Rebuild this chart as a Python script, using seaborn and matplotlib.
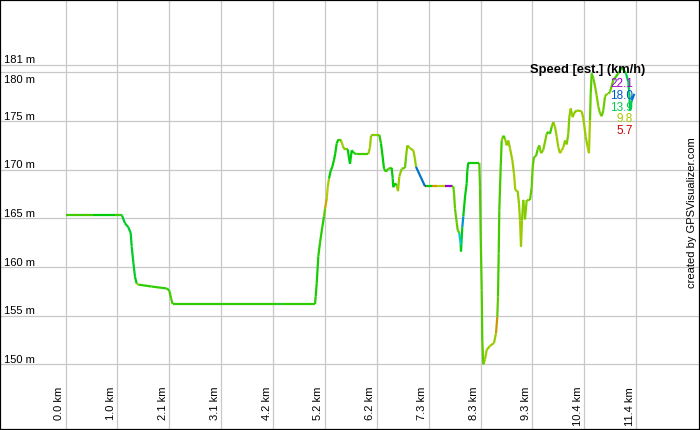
import numpy as np
import pandas as pd
import matplotlib
matplotlib.use("Agg")
import matplotlib.pyplot as plt
import seaborn as sns
from matplotlib.colors import ListedColormap, Normalize, hsv_to_rgb
from matplotlib import transforms
from matplotlib.patches import Rectangle

sns.set_theme(style="white")
plt.rcParams['font.family'] = ['Liberation Sans', 'DejaVu Sans']

# ---------------- data ----------------
dist_km = [
    0.000, 0.540, 0.990, 1.108, 1.128, 1.188, 1.254, 1.302, 1.322, 1.354, 1.388, 1.422, 1.454, 1.722, 2.022, 2.074, 2.108, 2.142,
    4.310, 4.330, 4.988, 5.002, 5.022, 5.054, 5.088, 5.134, 5.168, 5.188, 5.222, 5.242, 5.268, 5.302, 5.334, 5.368, 5.394, 5.422,
    5.454, 5.502, 5.542, 5.574, 5.642, 5.674, 5.688, 5.722, 5.768, 5.822, 6.054, 6.088, 6.108, 6.154, 6.274, 6.308, 6.342, 6.368,
    6.408, 6.454, 6.522, 6.542, 6.554, 6.588, 6.622, 6.648, 6.674, 6.722, 6.788, 6.808, 6.834, 6.888, 6.954, 6.988, 7.008, 7.188,
    7.210, 7.320, 7.420, 7.590, 7.720, 7.754, 7.768, 7.788, 7.822, 7.842, 7.874, 7.902, 7.908, 7.934, 7.954, 7.988, 8.022, 8.034,
    8.054, 8.274, 8.288, 8.302, 8.322, 8.334, 8.354, 8.388, 8.422, 8.488, 8.568, 8.608, 8.634, 8.648, 8.662, 8.674, 8.702, 8.722,
    8.754, 8.788, 8.822, 8.854, 8.888, 8.934, 8.968, 8.994, 9.042, 9.068, 9.088, 9.108, 9.128, 9.154, 9.188, 9.222, 9.288, 9.322,
    9.342, 9.368, 9.408, 9.442, 9.474, 9.508, 9.552, 9.622, 9.654, 9.688, 9.722, 9.754, 9.788, 9.822, 9.854, 9.888, 9.922, 9.954,
    9.988, 10.022, 10.054, 10.074, 10.102, 10.142, 10.168, 10.222, 10.322, 10.354, 10.402, 10.442, 10.468, 10.488, 10.502, 10.522,
    10.554, 10.588, 10.622, 10.654, 10.688, 10.722, 10.754, 10.788, 10.822, 10.854, 10.888, 10.954, 11.054, 11.122, 11.168, 11.208,
    11.254, 11.274, 11.288, 11.322, 11.374,
]

elev_m = [
    165.4, 165.4, 165.4, 165.4, 165.3, 164.5, 164.1, 163.5, 162.1, 160.5, 159.0, 158.3, 158.2, 158.0, 157.8, 157.6, 156.8, 156.2,
    156.2, 156.2, 156.2, 157.0, 158.3, 161.1, 162.5, 164.1, 165.2, 166.0, 167.0, 168.2, 169.1, 169.9, 170.3, 171.0, 171.7, 172.7,
    173.1, 173.1, 172.5, 172.1, 172.1, 171.0, 170.6, 172.0, 171.7, 171.6, 171.6, 172.3, 173.5, 173.6, 173.6, 172.7, 171.3, 170.1,
    169.8, 170.1, 170.2, 169.1, 168.2, 168.6, 168.4, 167.8, 169.3, 170.1, 170.2, 171.3, 172.5, 172.2, 172.0, 171.1, 170.3, 168.3,
    168.3, 168.3, 168.3, 168.3, 168.3, 168.3, 167.6, 166.0, 164.6, 163.8, 163.5, 162.3, 161.6, 164.1, 165.2, 167.2, 168.6, 169.9,
    170.7, 170.7, 168.2, 163.1, 157.6, 152.5, 150.0, 150.5, 151.5, 151.9, 152.2, 153.2, 154.9, 157.0, 161.4, 165.8, 170.3, 173.0,
    173.5, 173.2, 172.5, 173.0, 172.2, 171.0, 169.6, 167.9, 167.8, 166.5, 164.8, 162.1, 164.8, 166.9, 164.9, 166.9, 166.9, 168.2,
    170.3, 171.3, 171.4, 172.1, 172.5, 171.7, 172.0, 173.7, 173.9, 173.7, 174.4, 174.9, 174.4, 173.4, 172.3, 171.7, 172.0, 172.3,
    173.0, 172.6, 173.7, 175.4, 176.3, 175.4, 175.8, 176.1, 176.0, 175.3, 173.4, 172.3, 171.7, 175.1, 177.8, 179.9,
    179.4, 178.6, 177.6, 176.5, 175.8, 175.5, 176.1, 177.5, 177.8, 177.8, 178.0, 179.2, 179.9, 180.5, 180.2, 179.9,
    179.0, 177.8, 176.1, 177.1, 177.8,
]

# estimated speed (km/h) of the segment starting at each point
speed_kmh = [
    11.5, 12.8, 11.5, 13.2, 13.2, 13.2, 13.2, 13.2, 13.2, 13.2, 13.0, 9.0, 11.8, 11.8, 11.8, 11.5, 11.5, 11.8,
    16.0, 11.8, 12.0, 12.2, 12.2, 12.0, 12.0, 12.0, 11.0, 8.5, 9.5, 9.8, 12.5, 12.5, 12.5, 12.5, 12.5, 12.5,
    11.5, 9.8, 10.2, 10.5, 12.8, 12.8, 12.8, 12.5, 12.0, 11.5, 10.0, 10.0, 10.5, 10.2, 12.0, 12.5, 12.5, 12.0,
    11.5, 11.5, 12.8, 12.8, 12.8, 12.5, 10.0, 10.0, 10.2, 11.0, 11.0, 10.5, 10.0, 10.0, 10.0, 10.2, 17.5, 6.0,
    12.5, 8.3, 9.5, 22.0, 11.5, 11.0, 11.0, 11.0, 11.0, 11.0, 16.0, 13.0, 13.0, 17.0, 12.8, 12.8, 12.8, 12.8,
    12.3, 11.3, 11.3, 11.3, 11.3, 11.0, 10.0, 10.0, 10.0, 10.0, 10.0, 8.3, 11.0, 11.5, 11.5, 11.5, 11.5, 10.5,
    11.5, 10.0, 10.2, 10.0, 10.0, 10.0, 9.8, 10.0, 10.2, 10.0, 9.8, 10.0, 10.5, 10.2, 10.5, 10.5, 11.0, 11.0,
    11.0, 11.0, 11.2, 11.0, 10.5, 10.5, 10.5, 11.5, 11.0, 11.5, 10.5, 10.0, 10.0, 10.0, 10.0, 9.5, 9.8, 10.0,
    10.5, 10.5, 10.5, 10.2, 10.0, 10.2, 10.5, 10.0, 10.0, 10.0, 10.0, 9.8, 9.8, 11.0, 11.2, 11.0,
    10.8, 10.5, 10.5, 10.5, 10.8, 11.0, 10.8, 10.5, 10.5, 11.0, 11.0, 11.5, 12.0, 12.5, 13.0, 14.0,
    14.0, 14.0, 14.0, 17.5, 17.5,
]

x_tick_km = [0.0, 1.037, 2.075, 3.112, 4.150, 5.187, 6.225, 7.262, 8.300, 9.337, 10.375, 11.412]
x_tick_labels = ["0.0 km", "1.0 km", "2.1 km", "3.1 km", "4.2 km", "5.2 km",
                 "6.2 km", "7.3 km", "8.3 km", "9.3 km", "10.4 km", "11.4 km"]
y_tick_m = [150, 155, 160, 165, 170, 175, 180, 180.8]
y_tick_labels = ["150 m", "155 m", "160 m", "165 m", "170 m", "175 m", "180 m", "181 m"]

legend_title = "Speed [est.] (km/h)"
legend_speeds = [22.1, 18.0, 13.9, 9.8, 5.7]
speed_min, speed_max = 5.7, 22.1

# ---------------- colour scale ----------------
hues = np.linspace(0.0, 285.0 / 360.0, 256)
cmap = ListedColormap(hsv_to_rgb(np.stack([hues, np.ones_like(hues), 0.8 * np.ones_like(hues)], axis=-1)))
norm = Normalize(speed_min, speed_max)

# long-form segments table
rows = []
for i in range(len(dist_km) - 1):
    rows.append({"seg": i, "km": dist_km[i], "m": elev_m[i], "speed": speed_kmh[i]})
    rows.append({"seg": i, "km": dist_km[i + 1], "m": elev_m[i + 1], "speed": speed_kmh[i]})
seg_df = pd.DataFrame(rows)

# ---------------- figure ----------------
W, H = 700, 430
fig = plt.figure(figsize=(W / 100, H / 100), dpi=100)
fig.patch.set_facecolor("white")
ax = fig.add_axes([0, 0, 1, 1])
ax.set_facecolor("white")

x0_px, px_per_km = 65.6, 50.0
y150_px, px_per_m = 364.4, 9.733
ax.set_xlim(-x0_px / px_per_km, (W - x0_px) / px_per_km)
ax.set_ylim(150 - (H - y150_px) / px_per_m, 150 + y150_px / px_per_m)

sns.lineplot(data=seg_df, x="km", y="m", hue="speed", units="seg", estimator=None,
             sort=False, palette=cmap, hue_norm=(speed_min, speed_max),
             legend=False, linewidth=1.6, ax=ax, zorder=3)
for ln in ax.lines:
    ln.set_solid_capstyle("butt")
    ln.set_solid_joinstyle("miter")

ax.set_xticks(x_tick_km)
ax.set_yticks(y_tick_m)
ax.grid(True, color="#c8c8c8", linewidth=0.9)
ax.set_axisbelow(True)
ax.tick_params(labelbottom=False, labelleft=False, length=0)
ax.set_xlabel("")
ax.set_ylabel("")
for s in ax.spines.values():
    s.set_visible(False)

# y labels (inside, at left)
ytrans = transforms.blended_transform_factory(fig.transFigure, ax.transData)
for val, lab in zip(y_tick_m, y_tick_labels):
    if lab == "180 m":
        ax.text(4 / W, val, lab, transform=ytrans + transforms.ScaledTranslation(0, -3 / 100, fig.dpi_scale_trans),
                ha="left", va="top", fontsize=8, color="black")
    else:
        ax.text(4 / W, val, lab, transform=ytrans + transforms.ScaledTranslation(0, 1.5 / 100, fig.dpi_scale_trans),
                ha="left", va="baseline", fontsize=8, color="black")

# x labels (rotated, just left of grid lines)
xtrans = transforms.blended_transform_factory(ax.transData, fig.transFigure)
for val, lab in zip(x_tick_km, x_tick_labels):
    ax.text(val, 1 - 387 / H, lab,
            transform=xtrans + transforms.ScaledTranslation(-1.5 / 100, 0, fig.dpi_scale_trans),
            rotation=90, ha="right", va="top", fontsize=8, color="black")

# speed legend
fig.text(645 / W, 1 - 70 / H, legend_title, ha="right", va="center",
         fontsize=9.3, fontweight="bold", color="black", zorder=5)
legend_y_px = [84, 96, 108, 119.5, 131]
for sp, ypx in zip(legend_speeds, legend_y_px):
    fig.text(633 / W, 1 - ypx / H, f"{sp:.1f}", ha="right", va="center",
             fontsize=8.5, color=cmap(norm(sp)), zorder=5)

# credit
fig.text(692 / W, 1 - 213 / H, "created by GPSVisualizer.com", rotation=90,
         ha="center", va="center", fontsize=8, color="black")

# border
fig.patches.append(Rectangle((0, 0), 1, 1, transform=fig.transFigure, fill=False,
                             edgecolor="black", linewidth=1.6, zorder=10))

fig.savefig("out.png", dpi=100, facecolor="white")
